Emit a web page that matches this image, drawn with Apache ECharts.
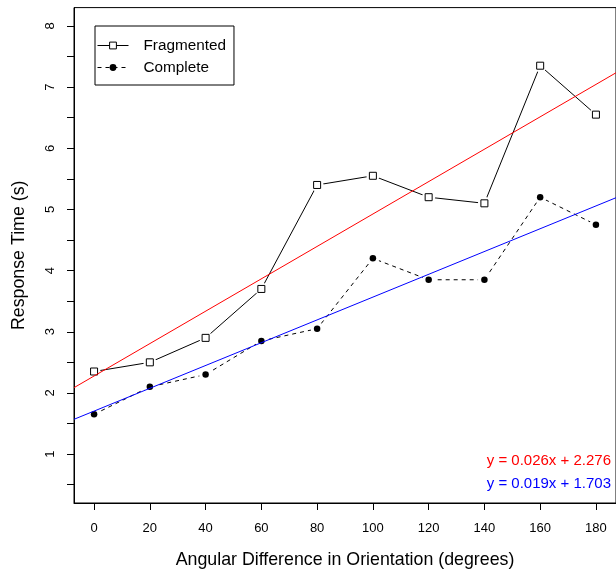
<!DOCTYPE html>
<html>
<head>
<meta charset="utf-8">
<script src="https://cdn.jsdelivr.net/npm/echarts@6/dist/echarts.min.js"></script>
<style>
html,body{margin:0;padding:0;background:#fff;}
#chart{width:616px;height:574px;}
</style>
</head>
<body>
<div id="chart"></div>
<script>
const xValues = [0, 20, 40, 60, 80, 100, 120, 140, 160, 180];
const fragmented = [2.35, 2.50, 2.90, 3.70, 5.40, 5.55, 5.20, 5.10, 7.35, 6.55];
const complete = [1.65, 2.10, 2.30, 2.85, 3.05, 4.20, 3.85, 3.85, 5.20, 4.75];
const xTickLabels = [0, 20, 40, 60, 80, 100, 120, 140, 160, 180];
const yTickLabels = [1, 2, 3, 4, 5, 6, 7, 8];
const yMinorTicks = [0.5, 1, 1.5, 2, 2.5, 3, 3.5, 4, 4.5, 5, 5.5, 6, 6.5, 7, 7.5, 8];
const seriesNames = ['Fragmented', 'Complete'];
const eqFragmented = 'y = 0.026x + 2.276';
const eqComplete = 'y = 0.019x + 1.703';
const xTitle = 'Angular Difference in Orientation (degrees)';
const yTitle = 'Response Time (s)';

const X_MIN = -7.2, X_MAX = 187.2, Y_MIN = 0.2, Y_MAX = 8.3;
const FONT = '"Liberation Sans", Arial, Helvetica, sans-serif';

function fit(xs, ys) {
  const n = xs.length;
  const mx = xs.reduce((a, b) => a + b, 0) / n;
  const my = ys.reduce((a, b) => a + b, 0) / n;
  let sxy = 0, sxx = 0;
  for (let i = 0; i < n; i++) { sxy += (xs[i] - mx) * (ys[i] - my); sxx += (xs[i] - mx) * (xs[i] - mx); }
  const b = sxy / sxx;
  return { a: my - b * mx, b: b };
}
const fitF = fit(xValues, fragmented);
const fitC = fit(xValues, complete);
const pairs = ys => xValues.map((x, i) => [x, ys[i]]);
const fitLine = f => [[X_MIN, f.a + f.b * X_MIN], [X_MAX, f.a + f.b * X_MAX]];

const chart = echarts.init(document.getElementById('chart'), null, { renderer: 'canvas' });
chart.setOption({
  animation: false,
  backgroundColor: '#fff',
  textStyle: { fontFamily: FONT },
  grid: { left: 74, top: 7.6, right: -3.6, bottom: 69.2, show: true, borderColor: '#000', borderWidth: 1, backgroundColor: 'transparent' },
  legend: {
    data: seriesNames,
    orient: 'vertical',
    left: 95, top: 26,
    itemWidth: 31, itemHeight: 8.5, itemGap: 7,
    borderColor: '#000', borderWidth: 1, borderRadius: 0,
    padding: [12, 8, 10, 2],
    lineStyle: { width: 1 },
    itemStyle: { borderWidth: 1 },
    textStyle: { fontFamily: FONT, fontSize: 15.3, lineHeight: 14, color: '#000', padding: [0, 0, 0, 10] },
    selectedMode: false
  },
  xAxis: {
    type: 'value', min: X_MIN, max: X_MAX,
    name: xTitle, nameLocation: 'middle', nameGap: 48,
    nameTextStyle: { fontFamily: FONT, fontSize: 17.8, color: '#000' },
    axisLine: { show: true, onZero: false, lineStyle: { color: '#000', width: 1 } },
    axisTick: { show: true, length: 7, lineStyle: { color: '#000' }, customValues: xTickLabels },
    axisLabel: { customValues: xTickLabels, fontFamily: FONT, fontSize: 13, color: '#000', margin: 19 },
    splitLine: { show: false }
  },
  yAxis: {
    type: 'value', min: Y_MIN, max: Y_MAX,
    name: yTitle, nameLocation: 'middle', nameGap: 46,
    nameTextStyle: { fontFamily: FONT, fontSize: 17.8, color: '#000' },
    axisLine: { show: true, onZero: false, lineStyle: { color: '#000', width: 1 } },
    axisTick: { show: true, length: 7, lineStyle: { color: '#000' }, customValues: yMinorTicks },
    axisLabel: { customValues: yTickLabels, rotate: 90, fontFamily: FONT, fontSize: 13, color: '#000', margin: 17 },
    splitLine: { show: false }
  },
  series: [
    { name: seriesNames[0], type: 'line', data: pairs(fragmented), showSymbol: false, symbol: 'rect', symbolSize: 7,
      itemStyle: { color: '#fff', borderColor: '#000', borderWidth: 1 },
      lineStyle: { color: '#000', width: 1 }, z: 2, silent: true },
    { name: seriesNames[1], type: 'line', data: pairs(complete), showSymbol: false, symbol: 'circle', symbolSize: 6,
      itemStyle: { color: '#000' },
      lineStyle: { color: '#000', width: 1, type: [4, 4] }, z: 2, silent: true },
    { name: 'gapF', type: 'scatter', data: pairs(fragmented), symbol: 'circle', symbolSize: 13,
      itemStyle: { color: '#fff', opacity: 1 }, z: 3, silent: true },
    { name: 'gapC', type: 'scatter', data: pairs(complete), symbol: 'circle', symbolSize: 13,
      itemStyle: { color: '#fff', opacity: 1 }, z: 3, silent: true },
    { name: 'markF', type: 'scatter', data: pairs(fragmented), symbol: 'rect', symbolSize: 7,
      itemStyle: { color: '#fff', borderColor: '#000', borderWidth: 1, opacity: 1 }, z: 4, silent: true },
    { name: 'markC', type: 'scatter', data: pairs(complete), symbol: 'circle', symbolSize: 6.5,
      itemStyle: { color: '#000', opacity: 1 }, z: 4, silent: true },
    { name: 'fitF', type: 'line', data: fitLine(fitF), showSymbol: false, lineStyle: { color: '#ff0000', width: 1 }, z: 5, silent: true },
    { name: 'fitC', type: 'line', data: fitLine(fitC), showSymbol: false, lineStyle: { color: '#0000ff', width: 1 }, z: 5, silent: true }
  ],
  graphic: [
    { type: 'text', right: 5, top: 453, style: { text: eqFragmented, fill: '#ff0000', font: '15px ' + FONT } },
    { type: 'text', right: 5, top: 476, style: { text: eqComplete, fill: '#0000ff', font: '15px ' + FONT } }
  ]
});
</script>
</body>
</html>
